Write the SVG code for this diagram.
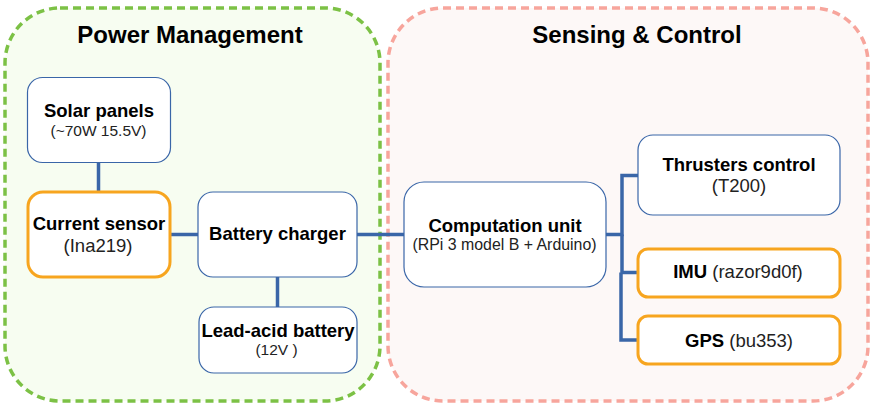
<svg xmlns="http://www.w3.org/2000/svg" width="873" height="412" viewBox="0 0 873 412">
<style>
.t{font-family:"Liberation Sans",Arial,sans-serif;fill:#000;text-anchor:middle}
.b{font-weight:bold;font-size:18.5px}
.r{font-size:18.5px;fill:#222}
.s{font-size:15.5px;fill:#222}
.s2{font-size:15.9px;fill:#222}
.h{font-weight:bold;font-size:24px}
.box{fill:#fff;stroke:#3a66a8;stroke-width:1.2}
.obox{fill:#fff;stroke:#f7a51f;stroke-width:3}
.con{fill:none;stroke:#3a66a8;stroke-width:3.5}
</style>
<g id="power-management">
<rect x="5" y="8" width="375" height="393" rx="55" fill="#f7fdf1" stroke="#7cc145" stroke-width="3.5" stroke-dasharray="8 5"/>
<text class="t h" x="190" y="43">Power Management</text>
</g>
<g id="sensing-control">
<rect x="388" y="8" width="480" height="393" rx="55" fill="#fdf8f7" stroke="#f7a59c" stroke-width="3.5" stroke-dasharray="8 5"/>
<text class="t h" x="637" y="43">Sensing &amp; Control</text>
</g>
<g id="connectors">
<path class="con" d="M98.5,163 V191"/>
<path class="con" d="M170,234.5 H198"/>
<path class="con" d="M277.5,277 V307"/>
<path class="con" d="M357,234.5 H404"/>
<path class="con" d="M606,234.5 H622 V175.5 H638"/>
<path class="con" d="M622,234.5 V272.5 H638"/>
<path class="con" d="M621,272.5 V340 H638"/>
</g>
<g id="solar-panels">
<rect class="box" x="27.5" y="77.5" width="143" height="85" rx="15"/>
<text class="t b" x="99" y="117">Solar panels</text>
<text class="t s" x="98.5" y="136">(~70W 15.5V)</text>
</g>
<g id="current-sensor">
<rect class="obox" x="28" y="192" width="142" height="85" rx="15"/>
<text class="t b" x="99" y="230">Current sensor</text>
<text class="t r" x="98" y="252">(Ina219)</text>
</g>
<g id="battery-charger">
<rect class="box" x="198" y="192" width="159" height="85" rx="15"/>
<text class="t b" x="277.5" y="240">Battery charger</text>
</g>
<g id="lead-acid-battery">
<rect class="box" x="199" y="307" width="158" height="66" rx="15"/>
<text class="t b" x="278" y="337">Lead-acid battery</text>
<text class="t s" x="276.5" y="355">(12V )</text>
</g>
<g id="computation-unit">
<rect class="box" x="404" y="182" width="202" height="105" rx="20"/>
<text class="t b" x="505" y="232">Computation unit</text>
<text class="t s2" x="504.5" y="250">(RPi 3 model B + Arduino)</text>
</g>
<g id="thrusters-control">
<rect class="box" x="638" y="135" width="202" height="80" rx="15"/>
<text class="t b" x="739" y="171">Thrusters control</text>
<text class="t r" x="739" y="192">(T200)</text>
</g>
<g id="imu">
<rect class="obox" x="638" y="249" width="202" height="48" rx="10"/>
<text class="t b" x="738" y="278">IMU<tspan font-weight="normal" fill="#222"> (razor9d0f)</tspan></text>
</g>
<g id="gps">
<rect class="obox" x="638" y="316" width="202" height="48" rx="10"/>
<text class="t b" x="739" y="347">GPS<tspan font-weight="normal" fill="#222"> (bu353)</tspan></text>
</g>
</svg>
